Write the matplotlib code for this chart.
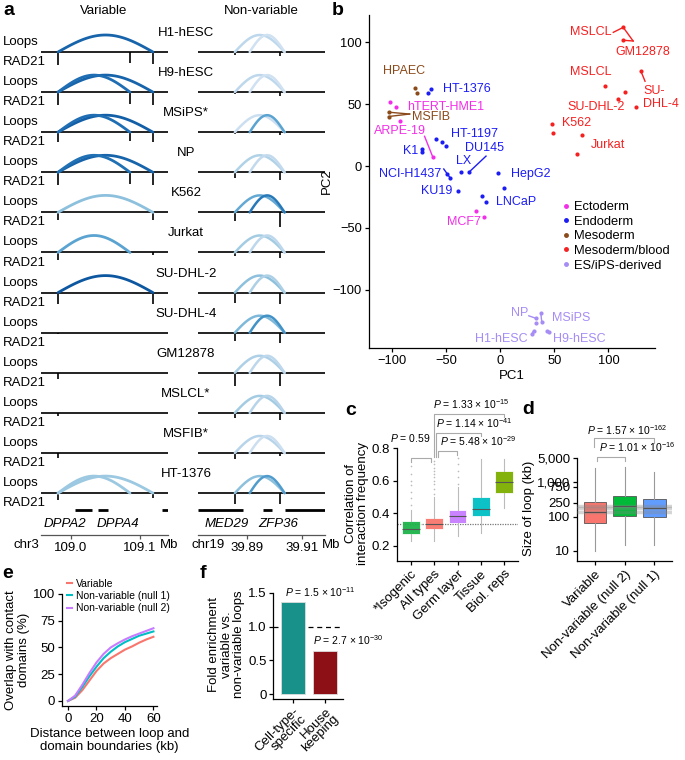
import numpy as np
import matplotlib
matplotlib.use('Agg')
import matplotlib.pyplot as plt
from matplotlib.lines import Line2D

plt.rcParams['font.family'] = ['Liberation Sans', 'DejaVu Sans']
plt.rcParams['mathtext.fontset'] = 'custom'
plt.rcParams['mathtext.rm'] = 'Liberation Sans'
plt.rcParams['mathtext.it'] = 'Liberation Sans:italic'
plt.rcParams['axes.linewidth'] = 0.9
plt.rcParams['xtick.major.width'] = 0.9
plt.rcParams['ytick.major.width'] = 0.9
plt.rcParams['xtick.major.size'] = 3
plt.rcParams['ytick.major.size'] = 3

# ---------------- data ----------------
# a: loops and RAD21 at two loci
cells = ['H1-hESC', 'H9-hESC', 'MSiPS*', 'NP', 'K562', 'Jurkat', 'SU-DHL-2',
         'SU-DHL-4', 'GM12878', 'MSLCL*', 'MSFIB*', 'HT-1376']
var_anchors = [108.9812, 109.0855, 109.1188]     # Mb, chr3
nv_anchors = [39.8856, 39.891, 39.9037]          # Mb, chr19
var_long = [0.8, 0.8, 0.82, 0.8, 0.42, 0, 0.85, 0, 0, 0, 0, 0.38]
var_short = [0, 0.76, 0.76, 0.75, 0, 0.55, 0, 0, 0, 0, 0, 0.38]
nv_long = [0.28, 0.28, 0.22, 0.32, 0.52, 0.36, 0.42, 0.45, 0.33, 0.36, 0.3, 0.42]
nv_short = [0.2, 0.2, 0.55, 0.26, 0.72, 0.28, 0.33, 0.62, 0.28, 0.3, 0.22, 0.58]
var_peak_pos = [108.9812, 109.0855, 109.1188]
var_peaks = [[13, 11, 12], [13, 12, 13], [10, 9, 10], [13, 12, 13], [8, 0, 8], [8, 0, 3],
             [11, 0, 11], [1, 0, 0], [6, 0, 0], [3, 0, 0], [5, 0, 0], [7, 0, 5]]
nv_peak_pos = [39.8856, 39.9019]
nv_peaks = [[3, 4], [2, 4], [2, 3], [6, 8], [9, 15], [4, 6], [10, 11], [8, 10],
            [13, 13], [5, 7], [6, 3], [11, 11]]
var_genes = [(109.0058, 109.030), (109.039, 109.054), (109.132, 109.143)]
nv_genes = [(39.8722, 39.8885), (39.8958, 39.8991), (39.9038, 39.9184)]

# b: PCA
groups = ['Ectoderm', 'Endoderm', 'Mesoderm', 'Mesoderm/blood', 'ES/iPS-derived']
group_colors = ['#f22ee8', '#1c1cf5', '#8b4a1a', '#f52020', '#a68cf5']
b_names = ['HPAEC', 'HT-1376', 'hTERT-HME1', 'MSFIB', 'ARPE-19', 'K1', 'HT-1197', 'LX',
           'DU145', 'NCI-H1437', 'HepG2', 'KU19', 'LNCaP', 'MCF7', 'MSLCL', 'GM12878',
           'MSLCL', 'SU-DHL-4', 'SU-DHL-2', 'K562', 'Jurkat', 'NP', 'MSiPS', 'H1-hESC',
           'H9-hESC']
b_group = [2, 1, 0, 2, 0, 1, 1, 1, 1, 1, 1, 1, 1, 0, 3, 3, 3, 3, 3, 3, 3, 4, 4, 4, 4]
b_pc1 = [[-79, -77], [-67, -64], [-102, -96], [-103, -103], [-92.7, -62], [-72.5, -72.5],
         [-58.7, -54, -49.6], [-36], [-28.5], [-48.6, -46], [-2, 4], [-39], [-17, -13],
         [-22, -15], [113.7], [113.7], [97], [130, 125.6], [115.5, 109], [47.6, 49],
         [76, 71], [33, 33], [37.6, 38.5], [31, 29], [43, 45]]
b_pc2 = [[63, 59], [59, 62], [52, 47.5], [43.5, 40], [36, 7], [13.7, 11.3],
         [21.8, 19.3, 16], [-4.8], [-4.8], [-6.5, -9.7], [-6, -18], [-20], [-24, -29],
         [-36, -41], [112], [101.6], [64.5], [76.6, 47.6], [59.6, 54], [33.8, 27],
         [25, 10], [-123, -127], [-119, -126], [-133, -136], [-133, -134]]
# label anchor (pc1, pc2, ha)
b_label_pos = [(-89, 76.6, 'center'), (-53, 62, 'left'), (-86, 48, 'left'), (-81, 39.5, 'left'),
               (-116, 28, 'left'), (-76, 12.5, 'right'), (-45, 26, 'left'), (-34, 4, 'center'),
               (-32, 14.5, 'left'), (-54, -6.5, 'right'), (10, -6.5, 'left'), (-44, -20, 'right'),
               (-3.8, -29, 'left'), (-17.5, -45, 'right'), (102.7, 108.5, 'right'),
               (106, 92, 'left'), (102.7, 75.8, 'right'), (132, 55, 'left'), (115.5, 47.6, 'right'),
               (57, 34.7, 'left'), (84, 17, 'left'), (26.5, -119, 'right'), (47.6, -123, 'left'),
               (25.6, -140, 'right'), (48.6, -140, 'left')]
# leader lines: (label index, start pc1, start pc2, [(sample index, point index), ...])
b_leaders = [(3, -83.5, 42, [(3, 0), (3, 1)]), (4, -69.7, 24, [(4, 1)]),
             (8, -13, 8, [(8, 0)]), (9, -52, -2.4, [(9, 1)]),
             (14, 104.5, 108, [(14, 0)]), (15, 122.8, 101, [(14, 0), (15, 0)]),
             (17, 133.8, 68.5, [(17, 0)]), (21, 26.5, -121, [(21, 0)]),
             (22, 37.6, -119, [(22, 1)]), (23, 31, -133, [(23, 1)])]

# c: correlation of interaction frequency
c_labels = ['*Isogenic', 'All types', 'Germ layer', 'Tissue', 'Biol. reps']
c_colors = ['#1db34a', '#f8766d', '#c77cff', '#00bfc4', '#7cae00']
c_med = [0.30, 0.333, 0.379, 0.426, 0.594]
c_q1 = [0.272, 0.30, 0.34, 0.379, 0.523]
c_q3 = [0.348, 0.37, 0.42, 0.50, 0.656]
c_lo = [0.23, 0.225, 0.26, 0.28, 0.43]
c_hi = [0.42, 0.50, 0.56, 0.73, 0.73]
c_fliers = [[0.45, 0.49, 0.53, 0.57, 0.6, 0.64, 0.69],
            [0.52, 0.55, 0.58, 0.6, 0.62, 0.64, 0.66, 0.68, 0.7, 0.72],
            [0.58, 0.62, 0.66, 0.7, 0.74], [], []]
c_tests = [(1, 1.86, '0.59'), (2.16, 2.99, '5.48', '29'), (2.08, 4.0, '1.14', '41'),
           (2.01, 5.0, '1.33', '15')]

# d: loop size
d_labels = ['Variable', 'Non-variable (null 2)', 'Non-variable (null 1)']
d_colors = ['#f8766d', '#00ba38', '#619cff']
d_med = [133, 208, 178]
d_q1 = [64, 104, 96]
d_q3 = [271, 398, 318]
d_lo = [10.2, 14.9, 14.9]
d_hi = [2520, 2700, 2030]

# e: overlap with contact domains
e_dist = [0, 5, 10, 15, 20, 25, 30, 35, 40, 45, 50, 55, 60]
e_variable = [0, 3, 10, 19, 28, 35, 40, 44, 48, 51, 54.5, 57.5, 60]
e_null1 = [0, 4, 13, 23, 32, 40, 46, 51, 55, 58, 61, 63, 65]
e_null2 = [0, 5, 15, 26, 36, 44, 50, 54, 57.5, 60.5, 63, 65.5, 68]

# f: fold enrichment
f_labels = ['Cell-type-\nspecific', 'House\nkeeping']
f_values = [1.37, 0.64]
f_colors = ['#17918a', '#8c1015']

W, H = 685, 760
fig = plt.figure(figsize=(W / 100, H / 100), dpi=100)


def box(x0, y0, x1, y1):
    return [x0 / W, 1 - y1 / H, (x1 - x0) / W, (y1 - y0) / H]


def ptxt(x, y, s, **kw):
    fig.text(x / W, 1 - y / H, s, **kw)


FS = 9.5

# ---------------- panel a ----------------
ptxt(3, 15, 'a', fontsize=14, fontweight='bold', va='baseline')
ptxt(104, 11, 'Variable', fontsize=FS, ha='center', va='center')
ptxt(261, 11, 'Non-variable', fontsize=FS, ha='center', va='center')

var_xlim = (108.9565, 109.1406)
nv_xlim = (39.8722, 39.9184)


def draw_track(ax, xlim, loops, peak_pos, peak_h, lw):
    ax.set_xlim(*xlim)
    ax.set_ylim(-16, 20)
    ax.axis('off')
    ax.axhline(0, color='#222222', lw=1.4)
    for p, h in zip(peak_pos, peak_h):
        if h > 0:
            ax.vlines(p, -h, 0, color='black', lw=1.2)
    t = np.linspace(0, 1, 80)
    for s, e, strength in loops:
        if strength > 0:
            ax.plot(s + (e - s) * t, 17 * np.sin(np.pi * t), color=plt.cm.Blues(strength),
                    lw=lw, solid_capstyle='round')


for i, cell in enumerate(cells):
    base = 52 + 40.1 * i
    ptxt(3, base - 10, 'Loops', fontsize=FS, va='center')
    ptxt(3, base + 10, 'RAD21', fontsize=FS, va='center')
    ptxt(186, base - 19, cell, fontsize=FS, ha='center', va='center')
    axl = fig.add_axes(box(41, base - 20, 168, base + 16))
    draw_track(axl, var_xlim,
               [(var_anchors[0], var_anchors[2], var_long[i]),
                (var_anchors[0], var_anchors[1], var_short[i])],
               var_peak_pos, var_peaks[i], 2.0)
    axr = fig.add_axes(box(198, base - 20, 325, base + 16))
    draw_track(axr, nv_xlim,
               [(nv_anchors[0], nv_anchors[2], nv_long[i]),
                (nv_anchors[1], nv_anchors[2], nv_short[i])],
               nv_peak_pos, nv_peaks[i], 1.8)

for x0, x1, xlim, genes, names, ticks, ticklabels, chrom, chrom_x, mb_x in [
        (41, 168, var_xlim, var_genes, [('DPPA2', 108.991), ('DPPA4', 109.068)],
         [109.0, 109.1], ['109.0', '109.1'], 'chr3', -0.01, 0.935),
        (198, 325, nv_xlim, nv_genes, [('MED29', 39.8827), ('ZFP36', 39.9013)],
         [39.89, 39.91], ['39.89', '39.91'], 'chr19', -0.055, 0.975)]:
    axg = fig.add_axes(box(x0, 505, x1, 515))
    axg.set_xlim(*xlim)
    axg.set_ylim(-1, 1)
    axg.axis('off')
    for gs, ge in genes:
        axg.hlines(0, gs, ge, color='black', lw=2.0)
    for name, pos in names:
        axg.text(pos, -1.6, name, fontsize=FS, style='italic', ha='center', va='top')
    axc = fig.add_axes(box(x0, 525, x1, 535))
    axc.set_xlim(*xlim)
    axc.set_yticks([])
    for sp in ['top', 'right', 'left']:
        axc.spines[sp].set_visible(False)
    axc.spines['bottom'].set_color('#555555')
    axc.patch.set_alpha(0)
    axc.set_xticks(ticks)
    axc.set_xticklabels(ticklabels, fontsize=FS)
    axc.tick_params(axis='x', pad=2, color='#555555')
    axc.text(chrom_x, -1.0, chrom, transform=axc.transAxes, fontsize=FS,
             ha='right' if chrom == 'chr3' else 'left', va='center')
    axc.text(mb_x, -1.0, 'Mb', transform=axc.transAxes, fontsize=FS, ha='left', va='center')

# ---------------- panel b ----------------
ptxt(332, 15, 'b', fontsize=14, fontweight='bold', va='baseline')
axb = fig.add_axes(box(369, 15, 655, 348))
axb.set_xlim(-121, 143)
axb.set_ylim(-147, 122)
for sp in ['top', 'right']:
    axb.spines[sp].set_visible(False)
for li, sx, sy, targets in b_leaders:
    col = group_colors[b_group[li]]
    for si, pi in targets:
        axb.plot([sx, b_pc1[si][pi]], [sy, b_pc2[si][pi]], color=col, lw=1.0, zorder=2)
for name, g, xs, ys, (tx, ty, ha) in zip(b_names, b_group, b_pc1, b_pc2, b_label_pos):
    col = group_colors[g]
    axb.scatter(xs, ys, s=9, color=col, linewidths=0, zorder=3)
    if name.startswith('SU-DHL-4'):
        name = 'SU-\nDHL-4'
    axb.text(tx, ty, name, color=col, fontsize=9, ha=ha, va='center', linespacing=1.1)
axb.set_xticks([-100, -50, 0, 50, 100])
axb.set_yticks([-100, -50, 0, 50, 100])
axb.tick_params(labelsize=9.3, pad=2)
axb.set_xlabel('PC1', fontsize=FS, labelpad=2)
axb.set_ylabel('PC2', fontsize=FS, labelpad=0)
handles = [Line2D([], [], marker='o', ls='', color=c, markersize=2.5) for c in group_colors]
axb.legend(handles, groups, loc='upper left', bbox_to_anchor=(562 / W, 1 - 201 / H),
           bbox_transform=fig.transFigure, frameon=False, fontsize=9.3, handlelength=0.6,
           handletextpad=0.3, labelspacing=0.2, borderpad=0, borderaxespad=0)

# ---------------- panel c ----------------
ptxt(345, 415, 'c', fontsize=14, fontweight='bold', va='baseline')
axc = fig.add_axes(box(397, 446.4, 518, 561))
stats = [dict(med=m, q1=a, q3=b, whislo=lo, whishi=hi, fliers=fl)
         for m, a, b, lo, hi, fl in zip(c_med, c_q1, c_q3, c_lo, c_hi, c_fliers)]
bp = axc.bxp(stats, positions=range(1, 6), widths=0.76, patch_artist=True,
             showcaps=False, flierprops=dict(marker='o', markersize=1.2, markerfacecolor='#bbbbbb',
                                             markeredgecolor='none'),
             whiskerprops=dict(color='#bbbbbb', lw=0.8),
             medianprops=dict(color='#555555', lw=0.8))
for patch, col in zip(bp['boxes'], c_colors):
    patch.set_facecolor(col)
    patch.set_edgecolor('white')
    patch.set_linewidth(0.6)
    patch.set_alpha(0.95)
axc.axhline(c_med[1], color='#777777', lw=0.9, ls=(0, (1, 1)), zorder=0)
axc.set_xlim(0.4, 5.6)
axc.set_ylim(0.105, 0.81)
axc.set_yticks([0.2, 0.4, 0.6, 0.8])
axc.set_yticklabels(['0.2', '0.4', '0.6', '0.8'])
axc.set_xticks(range(1, 6))
axc.set_xticklabels(c_labels, rotation=45, ha='right', rotation_mode='anchor', fontsize=FS)
axc.tick_params(labelsize=FS, pad=2)
axc.spines['left'].set_bounds(0.105, 0.8)
for sp in ['top', 'right']:
    axc.spines[sp].set_visible(False)
axc.set_ylabel('Correlation of\ninteraction frequency', fontsize=FS, labelpad=2, linespacing=1.0)
bracket_y = [0.737, 0.78, 0.894, 1.01]
text_pos = [(0.96, 0.862, 'center'), (2.25, 0.845, 'left'), (2.08, 0.956, 'left'),
            (1.96, 1.07, 'left')]
for k, test in enumerate(c_tests):
    x0, x1 = test[0], test[1]
    y = bracket_y[k]
    left_end = 0.716 if k == 0 else 0.747
    axc.plot([x0, x0, x1, x1], [left_end, y, y, y - 0.02], color='#aaaaaa', lw=0.8,
             clip_on=False)
    if len(test) == 3:
        s = r'$P$ = ' + test[2]
    else:
        s = r'$P$ = ' + test[2] + r' × 10$^{-' + test[3] + '}$'
    tx, ty, ha = text_pos[k]
    axc.text(tx, ty, s, fontsize=7.5, ha=ha, va='center', clip_on=False)

# ---------------- panel d ----------------
ptxt(522, 414, 'd', fontsize=14, fontweight='bold', va='baseline')
axd = fig.add_axes(box(577, 455, 672, 561))
axd.set_yscale('log')
stats = [dict(med=m, q1=a, q3=b, whislo=lo, whishi=hi, fliers=[])
         for m, a, b, lo, hi in zip(d_med, d_q1, d_q3, d_lo, d_hi)]
bp = axd.bxp(stats, positions=[1, 2, 3], widths=0.77, patch_artist=True, showcaps=False,
             whiskerprops=dict(color='#999999', lw=0.8),
             medianprops=dict(color='#333333', lw=0.8))
for patch, col in zip(bp['boxes'], d_colors):
    patch.set_facecolor(col)
    patch.set_edgecolor('#555555')
    patch.set_linewidth(0.6)
for m in d_med:
    axd.axhline(m, color='#888888', lw=2.5, alpha=0.35, zorder=3)
axd.set_xlim(0.39, 3.6)
axd.set_ylim(5.1, 6200)
axd.set_yticks([10, 100, 250, 750, 1000, 5000])
axd.set_yticklabels(['10', '100', '250', '750', '1,000', '5,000'])
axd.minorticks_off()
axd.set_xticks([1, 2, 3])
axd.set_xticklabels(d_labels, rotation=45, ha='right', rotation_mode='anchor', fontsize=FS)
axd.tick_params(labelsize=FS, pad=2)
for sp in ['top', 'right']:
    axd.spines[sp].set_visible(False)
axd.spines['left'].set_bounds(5.1, 5000)
axd.set_ylabel('Size of loop (kb)', fontsize=FS, labelpad=1)
axd.plot([0.95, 0.95, 3, 3], [10800, 19400, 19400, 14000], color='#aaaaaa', lw=0.8,
         clip_on=False)
axd.plot([1.05, 1.05, 2, 2], [4200, 5500, 5500, 4200], color='#aaaaaa', lw=0.8,
         clip_on=False)
axd.text(2.08, 10 ** 4.52, r'$P$ = 1.57 × 10$^{-162}$', fontsize=7.5, ha='center',
         va='center', clip_on=False)
axd.text(2.42, 10 ** 4.02, r'$P$ = 1.01 × 10$^{-16}$', fontsize=7.5, ha='center',
         va='center', clip_on=False)

# ---------------- panel e ----------------
ptxt(2, 578, 'e', fontsize=14, fontweight='bold', va='baseline')
axe = fig.add_axes(box(62, 594, 157, 706))
axe.plot(e_dist, e_variable, color='#f8766d', lw=1.5, label='Variable')
axe.plot(e_dist, e_null1, color='#00bfc4', lw=1.5, label='Non-variable (null 1)')
axe.plot(e_dist, e_null2, color='#c77cff', lw=1.5, label='Non-variable (null 2)')
axe.set_xlim(-4.2, 62.5)
axe.set_ylim(-4.7, 100)
axe.set_xticks([0, 20, 40, 60])
axe.set_yticks([0, 25, 50, 75, 100])
axe.tick_params(labelsize=FS, pad=2)
for sp in ['top', 'right']:
    axe.spines[sp].set_visible(False)
axe.set_xlabel('Distance between loop and\ndomain boundaries (kb)', fontsize=FS, labelpad=2,
               linespacing=1.1)
axe.set_ylabel('Overlap with contact\ndomains (%)', fontsize=FS, labelpad=2, linespacing=1.1)
axe.legend(loc='upper left', bbox_to_anchor=(67 / W, 1 - 579 / H),
           bbox_transform=fig.transFigure, frameon=False, fontsize=7.5, handlelength=0.5,
           handletextpad=0.4, labelspacing=0.2, borderpad=0, borderaxespad=0)

# ---------------- panel f ----------------
ptxt(200, 578, 'f', fontsize=14, fontweight='bold', va='baseline')
axf = fig.add_axes(box(273, 589.5, 343, 699))
axf.bar([1, 2], f_values, width=0.76, color=f_colors, edgecolor='#dddddd', linewidth=0.6)
axf.axhline(1.0, color='black', lw=0.9, ls=(0, (4, 3)), zorder=0)
axf.set_xlim(0.375, 2.56)
axf.set_ylim(-0.07, 1.55)
axf.set_yticks([0, 0.5, 1.0, 1.5])
axf.set_yticklabels(['0', '0.5', '1.0', '1.5'])
axf.set_xticks([1, 2])
axf.set_xticklabels(f_labels, rotation=45, ha='right', rotation_mode='anchor', fontsize=8,
                    linespacing=0.85, multialignment='right')
axf.tick_params(labelsize=FS, pad=1.5)
for sp in ['top', 'right']:
    axf.spines[sp].set_visible(False)
axf.spines['left'].set_bounds(-0.07, 1.5)
axf.set_ylabel('Fold enrichment\nvariable vs.\nnon-variable loops', fontsize=FS, labelpad=2,
               linespacing=1.1)
axf.text(0.75, 1.51, r'$P$ = 1.5 × 10$^{-11}$', fontsize=7.5, ha='left', va='center',
         clip_on=False)
axf.text(1.61, 0.80, r'$P$ = 2.7 × 10$^{-30}$', fontsize=7.5, ha='left', va='center',
         clip_on=False)

fig.savefig('out.png', dpi=100)
